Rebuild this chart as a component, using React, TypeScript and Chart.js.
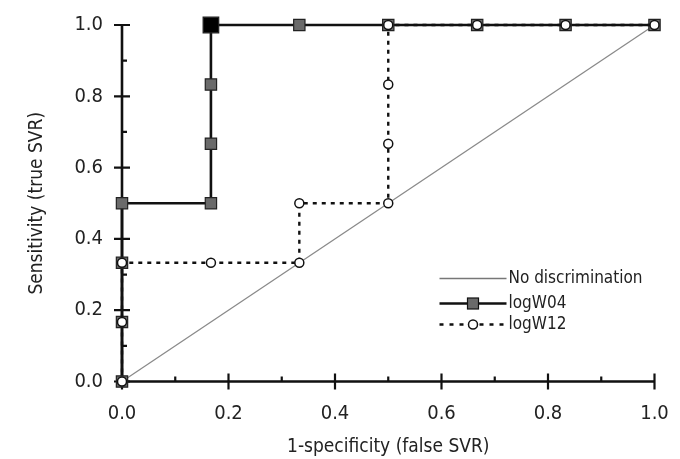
import React, { useEffect, useRef } from 'react';
import { Chart, registerables } from 'chart.js';

Chart.register(...registerables);

const FONT = "'Liberation Sans Narrow', 'DejaVu Sans Condensed', 'Arial Narrow', sans-serif";

// Data
const seriesNames = ['No discrimination', 'logW04', 'logW12'];
const diagX = [0, 1];
const diagY = [0, 1];
const w04X = [0, 0, 0, 0, 0.167, 0.167, 0.167, 0.167, 0.333, 0.5, 0.667, 0.833, 1];
const w04Y = [0, 0.167, 0.333, 0.5, 0.5, 0.667, 0.833, 1, 1, 1, 1, 1, 1];
const w12X = [0, 0, 0, 0.167, 0.333, 0.333, 0.5, 0.5, 0.5, 0.5, 0.667, 0.833, 1];
const w12Y = [0, 0.167, 0.333, 0.333, 0.333, 0.5, 0.5, 0.667, 0.833, 1, 1, 1, 1];
const majorTicks = [0, 0.2, 0.4, 0.6, 0.8, 1.0];
const minorTicks = [0.1, 0.3, 0.5, 0.7, 0.9];
const xTitle = '1-specificity (false SVR)';
const yTitle = 'Sensitivity (true SVR)';

const toPts = (xs: number[], ys: number[]) => xs.map((x, i) => ({ x, y: ys[i] }));

const axesPlugin = {
  id: 'customAxes',
  beforeDatasetsDraw(chart: any) {
    const { ctx, scales } = chart;
    const xs = scales.x;
    const ys = scales.y;
    const x0 = xs.getPixelForValue(0);
    const x1 = xs.getPixelForValue(1);
    const y0 = ys.getPixelForValue(0);
    const y1 = ys.getPixelForValue(1);
    ctx.save();
    ctx.strokeStyle = '#111';
    ctx.lineCap = 'butt';
    ctx.lineWidth = 2.6;
    ctx.beginPath();
    ctx.moveTo(x0 - 1.3, y0);
    ctx.lineTo(x1, y0);
    ctx.moveTo(x0, y0 + 1.3);
    ctx.lineTo(x0, y1);
    ctx.stroke();
    ctx.lineWidth = 2.2;
    ctx.beginPath();
    for (const v of majorTicks) {
      const px = xs.getPixelForValue(v);
      ctx.moveTo(px, y0 - 8);
      ctx.lineTo(px, y0 + 8);
      const py = ys.getPixelForValue(v);
      ctx.moveTo(x0 - 8, py);
      ctx.lineTo(x0 + 8, py);
    }
    for (const v of minorTicks) {
      const px = xs.getPixelForValue(v);
      ctx.moveTo(px, y0);
      ctx.lineTo(px, y0 - 5);
      const py = ys.getPixelForValue(v);
      ctx.moveTo(x0, py);
      ctx.lineTo(x0 + 5, py);
    }
    ctx.stroke();
    ctx.restore();
  },
};

const legendPlugin = {
  id: 'customLegend',
  afterDatasetsDraw(chart: any) {
    const { ctx, chartArea } = chart;
    const xStart = chartArea.right - 215;
    const xEnd = chartArea.right - 148;
    const xMid = (xStart + xEnd) / 2;
    const rows = [chartArea.bottom - 103, chartArea.bottom - 78, chartArea.bottom - 57];
    ctx.save();
    // row 1
    ctx.strokeStyle = '#777';
    ctx.lineWidth = 1.3;
    ctx.beginPath();
    ctx.moveTo(xStart, rows[0]);
    ctx.lineTo(xEnd, rows[0]);
    ctx.stroke();
    // row 2
    ctx.strokeStyle = '#111';
    ctx.lineWidth = 2.6;
    ctx.beginPath();
    ctx.moveTo(xStart, rows[1]);
    ctx.lineTo(xEnd, rows[1]);
    ctx.stroke();
    ctx.fillStyle = '#6a6a6a';
    ctx.lineWidth = 1.2;
    ctx.fillRect(xMid - 5.5, rows[1] - 5.5, 11, 11);
    ctx.strokeRect(xMid - 5.5, rows[1] - 5.5, 11, 11);
    // row 3
    ctx.lineWidth = 2.6;
    ctx.setLineDash([4, 6]);
    ctx.beginPath();
    ctx.moveTo(xStart, rows[2]);
    ctx.lineTo(xEnd, rows[2]);
    ctx.stroke();
    ctx.setLineDash([]);
    ctx.fillStyle = '#fff';
    ctx.lineWidth = 1.5;
    ctx.beginPath();
    ctx.arc(xMid, rows[2], 4.5, 0, Math.PI * 2);
    ctx.fill();
    ctx.stroke();
    // texts
    ctx.fillStyle = '#222';
    ctx.font = `17px ${FONT}`;
    ctx.textBaseline = 'middle';
    ctx.textAlign = 'left';
    seriesNames.forEach((n, i) => ctx.fillText(n, xEnd + 2, rows[i]));
    ctx.restore();
  },
};

export default function App() {
  const ref = useRef<HTMLCanvasElement | null>(null);
  useEffect(() => {
    if (!ref.current) return;
    const w04Colors = w04X.map((_, i) => (i === 7 ? '#000' : '#6a6a6a'));
    const w04Radius = w04X.map((_, i) => (i === 7 ? 11 : 8));
    const chart = new Chart(ref.current, {
      type: 'scatter',
      data: {
        datasets: [
          {
            label: seriesNames[2],
            data: toPts(w12X, w12Y),
            showLine: true,
            borderColor: '#111',
            borderWidth: 2.4,
            borderDash: [4, 5],
            pointStyle: 'circle',
            pointRadius: 4.5,
            pointBackgroundColor: '#fff',
            pointBorderColor: '#111',
            pointBorderWidth: 1.5,
            order: 0,
            clip: false,
          } as any,
          {
            label: seriesNames[1],
            data: toPts(w04X, w04Y),
            showLine: true,
            borderColor: '#111',
            borderWidth: 2.6,
            pointStyle: 'rect',
            pointRadius: w04Radius,
            pointBackgroundColor: w04Colors,
            pointBorderColor: '#222',
            pointBorderWidth: 1.2,
            order: 1,
            clip: false,
          } as any,
          {
            label: seriesNames[0],
            data: toPts(diagX, diagY),
            showLine: true,
            borderColor: '#8a8a8a',
            borderWidth: 1.3,
            pointRadius: 0,
            order: 2,
            clip: false,
          } as any,
        ],
      },
      options: {
        animation: false,
        responsive: false,
        layout: { padding: { top: 25, right: 25.5, left: 0, bottom: 0 } },
        plugins: { legend: { display: false }, tooltip: { enabled: false } },
        scales: {
          x: {
            type: 'linear',
            min: 0,
            max: 1,
            border: { display: false },
            grid: { display: false, drawTicks: false },
            ticks: {
              stepSize: 0.2,
              padding: 20,
              color: '#222',
              font: { family: FONT, size: 20 },
              callback: (v: any) => Number(v).toFixed(1),
            },
            title: {
              display: true,
              text: xTitle,
              color: '#222',
              font: { family: FONT, size: 19 },
              padding: { top: 0, bottom: 1 },
            },
            afterFit: (s: any) => {
              s.height = 77.5;
              s.paddingLeft = 0;
              s.paddingRight = 0;
            },
          },
          y: {
            type: 'linear',
            min: 0,
            max: 1,
            border: { display: false },
            grid: { display: false, drawTicks: false },
            ticks: {
              stepSize: 0.2,
              padding: 19,
              color: '#222',
              font: { family: FONT, size: 20 },
              callback: (v: any) => Number(v).toFixed(1),
            },
            title: {
              display: true,
              text: yTitle,
              color: '#222',
              font: { family: FONT, size: 19 },
              padding: { top: 26, bottom: 0 },
            },
            afterFit: (s: any) => {
              s.width = 122;
              s.paddingTop = 0;
              s.paddingBottom = 0;
            },
          },
        },
      },
      plugins: [axesPlugin, legendPlugin],
    });
    return () => chart.destroy();
  }, []);
  return (
    <div style={{ position: 'absolute', left: 0, top: 0, width: 680, height: 459, background: '#fff' }}>
      <canvas ref={ref} width={680} height={459} />
    </div>
  );
}
